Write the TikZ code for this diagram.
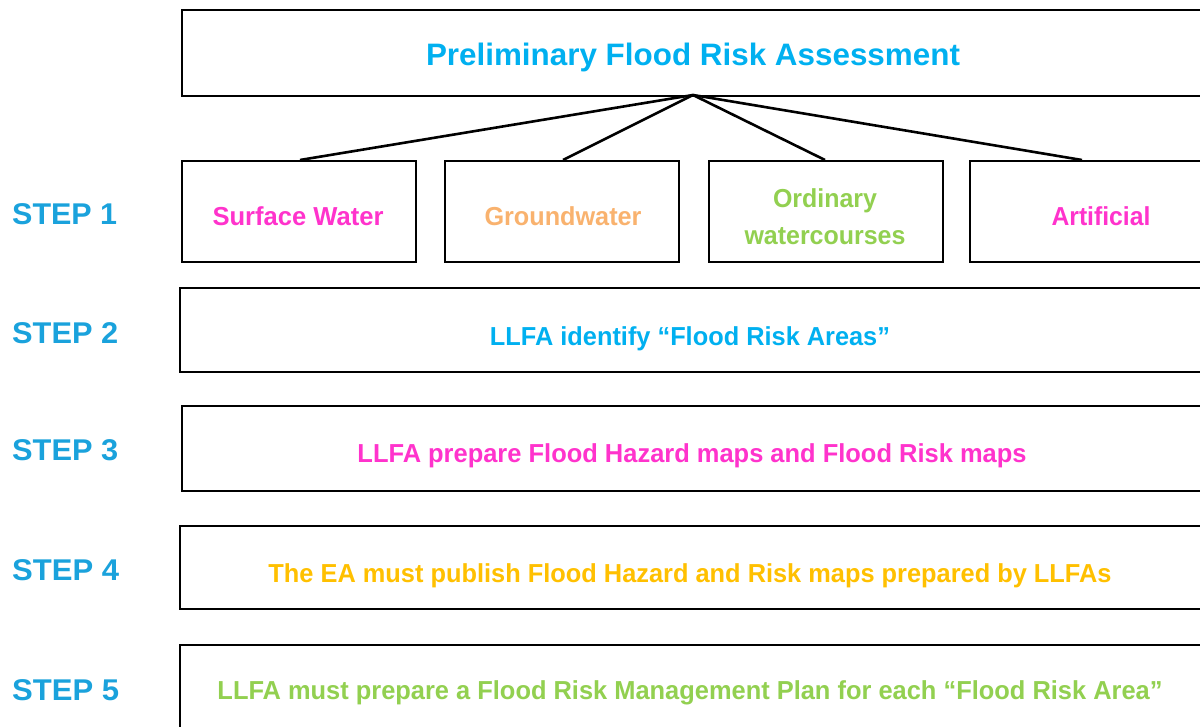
\documentclass[tikz,border=0pt]{standalone}
\usepackage{fontspec}
\setmainfont{Liberation Sans}
\usepackage{graphicx}
\definecolor{cblue}{HTML}{00B0F0}
\definecolor{sblue}{HTML}{1AA2DC}
\definecolor{cmag}{HTML}{FF33CC}
\definecolor{corange}{HTML}{F9B26E}
\definecolor{cgreen}{HTML}{92D050}
\definecolor{cgold}{HTML}{FFC000}
\newcommand{\fitw}[2]{\resizebox{#1pt}{\height}{#2}}
\begin{document}
\begin{tikzpicture}[x=1pt,y=-1pt,
  box/.style={draw=black, line width=2.4pt, fill=white, rectangle, anchor=north west, inner sep=0pt},
  txt/.style={inner sep=0pt, font=\fontsize{26}{30}\selectfont\bfseries, anchor=center, yshift=-3pt},
  steplbl/.style={inner sep=0pt, font=\fontsize{30}{34}\selectfont\bfseries, text=sblue, anchor=west, yshift=-1pt},
  fan/.style={draw=black, line width=2.6pt}]
\useasboundingbox (0,0) rectangle (1200,727);
\clip (0,0) rectangle (1200,727);
\fill[white] (0,0) rectangle (1200,727);
% boxes
\node[box, minimum width=1029pt, minimum height=86pt] (top) at (181,9) {};
\node[box, minimum width=234pt, minimum height=101pt] (b1) at (181,160) {};
\node[box, minimum width=234pt, minimum height=101pt] (b2) at (444,160) {};
\node[box, minimum width=234pt, minimum height=101pt] (b3) at (708,160) {};
\node[box, minimum width=241pt, minimum height=101pt] (b4) at (969,160) {};
\node[box, minimum width=1031pt, minimum height=84pt] (s2) at (179,287) {};
\node[box, minimum width=1029pt, minimum height=85pt] (s3) at (181,405) {};
\node[box, minimum width=1031pt, minimum height=83pt] (s4) at (179,525) {};
\node[box, minimum width=1031pt, minimum height=96pt] (s5) at (179,644) {};
% fan connectors
\coordinate (apex) at (693,95);
\coordinate (b1t) at (300,160);
\coordinate (b2t) at (563,160);
\coordinate (b3t) at (825,160);
\coordinate (b4t) at (1082,160);
\draw[fan] (apex) -- (b1t);
\draw[fan] (apex) -- (b2t);
\draw[fan] (apex) -- (b3t);
\draw[fan] (apex) -- (b4t);
% texts
\node[txt, text=cblue, font=\fontsize{31}{34}\selectfont\bfseries] (ttop) at (693,54) {\fitw{534}{Preliminary Flood Risk Assessment}};
\node[txt, text=cmag] (t1) at (298,213) {\fitw{171}{Surface Water}};
\node[txt, text=corange] (t2) at (563,213) {\fitw{157}{Groundwater}};
\node[txt, text=cgreen] (t3a) at (825,198) {\fitw{104}{Ordinary}};
\node[txt, text=cgreen] (t3b) at (825,233) {\fitw{161}{watercourses}};
\node[txt, text=cmag] (t4) at (1101,213) {\fitw{99}{Artificial}};
\node[txt, text=cblue] (ts2) at (690,336) {\fitw{400}{LLFA identify “Flood Risk Areas”}};
\node[txt, text=cmag] (ts3) at (692,453) {\fitw{669}{LLFA prepare Flood Hazard maps and Flood Risk maps}};
\node[txt, text=cgold] (ts4) at (690,573) {\fitw{843}{The EA must publish Flood Hazard and Risk maps prepared by LLFAs}};
\node[txt, text=cgreen] (ts5) at (690,690) {\fitw{945}{LLFA must prepare a Flood Risk Management Plan for each “Flood Risk Area”}};
% step labels
\node[steplbl] (l1) at (12,213) {\fitw{105}{STEP 1}};
\node[steplbl] (l2) at (12,332) {\fitw{106}{STEP 2}};
\node[steplbl] (l3) at (12,449) {\fitw{106}{STEP 3}};
\node[steplbl] (l4) at (12,569) {\fitw{107}{STEP 4}};
\node[steplbl] (l5) at (12,689) {\fitw{107}{STEP 5}};
\end{tikzpicture}
\end{document}
